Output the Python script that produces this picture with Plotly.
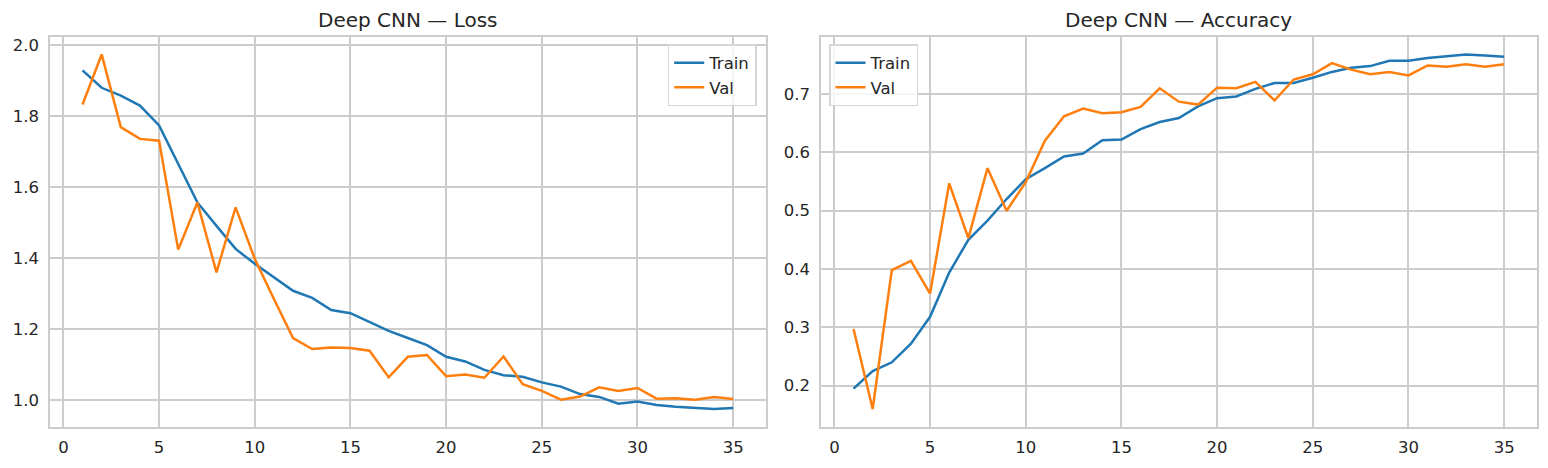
import plotly.graph_objects as go

epochs = list(range(1, 36))

loss_train = [1.929, 1.880, 1.858, 1.830, 1.774, 1.666, 1.557, 1.491, 1.426, 1.384,
              1.346, 1.308, 1.288, 1.254, 1.245, 1.219, 1.195, 1.175, 1.155, 1.122,
              1.109, 1.085, 1.070, 1.066, 1.050, 1.038, 1.017, 1.009, 0.990, 0.996,
              0.986, 0.981, 0.977, 0.975, 0.978]
loss_val = [1.833, 1.974, 1.769, 1.736, 1.731, 1.424, 1.557, 1.360, 1.543, 1.398,
            1.285, 1.175, 1.144, 1.148, 1.147, 1.139, 1.064, 1.122, 1.127, 1.067,
            1.072, 1.063, 1.123, 1.045, 1.026, 1.001, 1.010, 1.036, 1.026, 1.034,
            1.004, 1.005, 1.001, 1.009, 1.003]
acc_train = [0.195, 0.225, 0.240, 0.272, 0.318, 0.394, 0.450, 0.483, 0.520, 0.554,
             0.573, 0.593, 0.598, 0.621, 0.622, 0.640, 0.652, 0.659, 0.679, 0.693,
             0.696, 0.709, 0.719, 0.719, 0.728, 0.738, 0.745, 0.748, 0.757, 0.757,
             0.762, 0.765, 0.768, 0.766, 0.764]
acc_val = [0.297, 0.160, 0.398, 0.414, 0.358, 0.547, 0.453, 0.573, 0.500, 0.549,
           0.620, 0.662, 0.675, 0.667, 0.669, 0.678, 0.710, 0.687, 0.682, 0.711,
           0.710, 0.721, 0.689, 0.725, 0.734, 0.753, 0.742, 0.734, 0.738, 0.732,
           0.749, 0.747, 0.751, 0.747, 0.751]

x_ticks = [0, 5, 10, 15, 20, 25, 30, 35]
loss_ticks = [1.0, 1.2, 1.4, 1.6, 1.8, 2.0]
acc_ticks = [0.2, 0.3, 0.4, 0.5, 0.6, 0.7]

titles = ["Deep CNN — Loss", "Deep CNN — Accuracy"]
series_names = ["Train", "Val"]
colors = ["#1f77b4", "#ff7f0e"]

TEXT = "#262626"
GRID = "#cccccc"
FONT = "DejaVu Sans"

W, H = 1548, 468
top_px, bot_px = 36.7, 426.7
ydom = [(H - bot_px) / H, (H - top_px) / H]
xdom1 = [50 / W, 765.7 / W]
xdom2 = [821 / W, 1536.7 / W]


def padded(vals_list, frac=0.05):
    lo = min(min(v) for v in vals_list)
    hi = max(max(v) for v in vals_list)
    span = hi - lo
    return [lo - frac * span, hi + frac * span]


fig = go.Figure()
for i, (name, ys) in enumerate(zip(series_names, [loss_train, loss_val])):
    fig.add_trace(go.Scatter(x=epochs, y=ys, mode="lines", name=name,
                             line=dict(color=colors[i], width=2.5),
                             xaxis="x", yaxis="y", legend="legend"))
for i, (name, ys) in enumerate(zip(series_names, [acc_train, acc_val])):
    fig.add_trace(go.Scatter(x=epochs, y=ys, mode="lines", name=name,
                             line=dict(color=colors[i], width=2.5),
                             xaxis="x2", yaxis="y2", legend="legend2"))

xr = padded([epochs])
axis_common = dict(showgrid=True, gridcolor=GRID, gridwidth=1.5, zeroline=False,
                   showline=True, linecolor=GRID, linewidth=1.5, mirror=True,
                   ticks="", tickfont=dict(family=FONT, size=16.5, color=TEXT))

fig.update_layout(
    width=W, height=H,
    margin=dict(l=0, r=0, t=0, b=0),
    paper_bgcolor="white", plot_bgcolor="white",
    font=dict(family=FONT, color=TEXT, size=16.5),
    xaxis=dict(domain=xdom1, anchor="y", range=xr, tickmode="array", tickvals=x_ticks,
               ticklabelstandoff=5, **axis_common),
    yaxis=dict(domain=ydom, anchor="x", range=padded([loss_train, loss_val]),
               tickmode="array", tickvals=loss_ticks, tickformat=".1f",
               ticklabelstandoff=6, **axis_common),
    xaxis2=dict(domain=xdom2, anchor="y2", range=xr, tickmode="array", tickvals=x_ticks,
                ticklabelstandoff=5, **axis_common),
    yaxis2=dict(domain=ydom, anchor="x2", range=padded([acc_train, acc_val]),
                tickmode="array", tickvals=acc_ticks, tickformat=".1f",
                ticklabelstandoff=6, **axis_common),
    legend=dict(x=756.7 / W, xanchor="right", y=(H - 44) / H, yanchor="top",
                bgcolor="rgba(255,255,255,0.8)", bordercolor="#d6d6d6", borderwidth=1.5,
                tracegroupgap=0, font=dict(family=FONT, size=16.5, color=TEXT)),
    legend2=dict(x=829 / W, xanchor="left", y=(H - 44) / H, yanchor="top",
                 bgcolor="rgba(255,255,255,0.8)", bordercolor="#d6d6d6", borderwidth=1.5,
                 tracegroupgap=0, font=dict(family=FONT, size=16.5, color=TEXT)),
    showlegend=True,
)

for title, dom in zip(titles, [xdom1, xdom2]):
    fig.add_annotation(text=title, x=(dom[0] + dom[1]) / 2, y=(H - 20) / H,
                       xref="paper", yref="paper", xanchor="center", yanchor="middle",
                       showarrow=False, font=dict(family=FONT, size=20, color=TEXT))

fig.write_html("out.html")
